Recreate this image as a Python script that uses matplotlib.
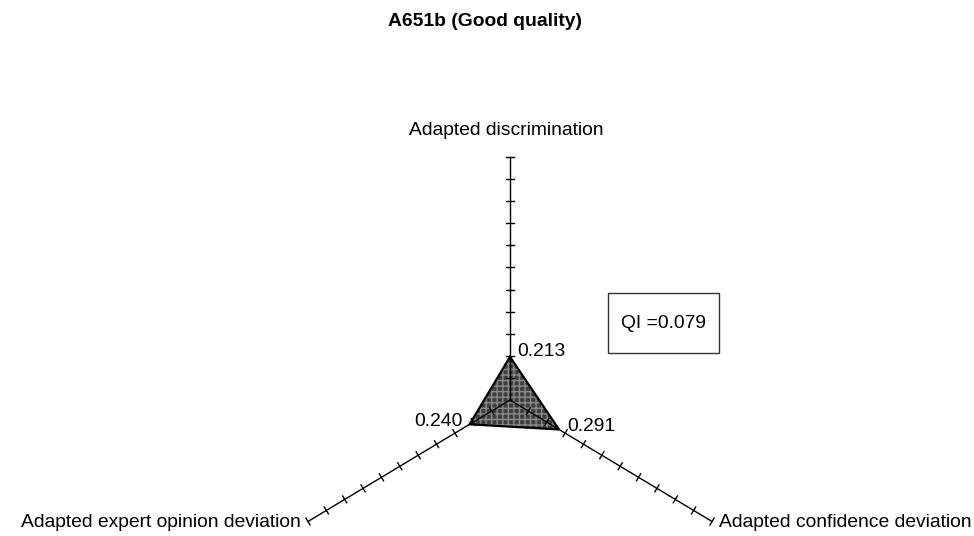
import numpy as np
import matplotlib
matplotlib.use("Agg")
import matplotlib.pyplot as plt

plt.rcParams['font.family'] = ['Liberation Sans', 'DejaVu Sans']
plt.rcParams['hatch.linewidth'] = 1.0

title = "A651b (Good quality)"
axis_names = ["Adapted discrimination", "Adapted confidence deviation", "Adapted expert opinion deviation"]
values = [0.213, 0.291, 0.240]
value_labels = ["0.213", "0.291", "0.240"]
qi_text = "QI =0.079"
axis_max = 1.2
n_ticks = 11

W, H = 974, 536
FS = 13.9
fig = plt.figure(figsize=(W / 100, H / 100), dpi=100)
ax = fig.add_axes([0, 0, 1, 1])
ax.set_axis_off()

cx, cy = 510, 400          # centre in pixels from top-left
ky = 243 / axis_max        # pixels per value unit (vertical)
kx = ky * 0.96             # pixels per value unit (horizontal)
ax.set_xlim((0 - cx) / kx, (W - cx) / kx)
ax.set_ylim((cy - H) / ky, cy / ky)

angles = np.deg2rad([90, -30, 210])
ux, uy = np.cos(angles), np.sin(angles)

# filled polygon
px = np.array(values) * ux
py = np.array(values) * uy
ax.fill(px, py, facecolor='#3f3f3f', edgecolor='#8a8a8a', hatch='+++', linewidth=0, zorder=1)
ax.fill(px, py, facecolor='none', edgecolor='black', linewidth=1.6, zorder=3)

# axes with ticks
for i in range(3):
    ax.plot([0, axis_max * ux[i]], [0, axis_max * uy[i]], color='black', lw=1.0, zorder=2)
    dxp, dyp = ux[i] * kx, uy[i] * ky
    L = np.hypot(dxp, dyp)
    nxp, nyp = -dyp / L, dxp / L
    hx, hy = 4 * nxp / kx, 4 * nyp / ky
    for t in range(1, n_ticks + 1):
        r = axis_max * t / n_ticks
        x0, y0 = r * ux[i], r * uy[i]
        ax.plot([x0 - hx, x0 + hx], [y0 - hy, y0 + hy], color='black', lw=1.0, zorder=2)

# axis names
ax.annotate(axis_names[0], (axis_max * ux[0], axis_max * uy[0]), xytext=(-3, 13),
            textcoords='offset points', ha='center', va='bottom', fontsize=FS)
ax.annotate(axis_names[1], (axis_max * ux[1], axis_max * uy[1]), xytext=(5, -1),
            textcoords='offset points', ha='left', va='center', fontsize=FS)
ax.annotate(axis_names[2], (axis_max * ux[2], axis_max * uy[2]), xytext=(-5, -1),
            textcoords='offset points', ha='right', va='center', fontsize=FS)

# value labels
offsets = [((5, 4), 'left'), ((6, 2), 'left'), ((-5, 2), 'right')]
for i in range(3):
    (dx, dy), ha = offsets[i]
    ax.annotate(value_labels[i], (px[i], py[i]), xytext=(dx, dy), textcoords='offset points',
                ha=ha, va='center', fontsize=FS, zorder=4)

# QI box
fig.patches.append(plt.Rectangle((608 / W, 1 - 353 / H), 111 / W, 60 / H,
                                 transform=fig.transFigure, facecolor='white',
                                 edgecolor='#333333', lw=1.0))
fig.text(663.5 / W, 1 - 323 / H, qi_text, ha='center', va='center', fontsize=FS)

fig.text(485 / W, 1 - 22 / H, title, ha='center', va='center', fontsize=FS, fontweight='bold')

fig.savefig("out.png", dpi=100)
